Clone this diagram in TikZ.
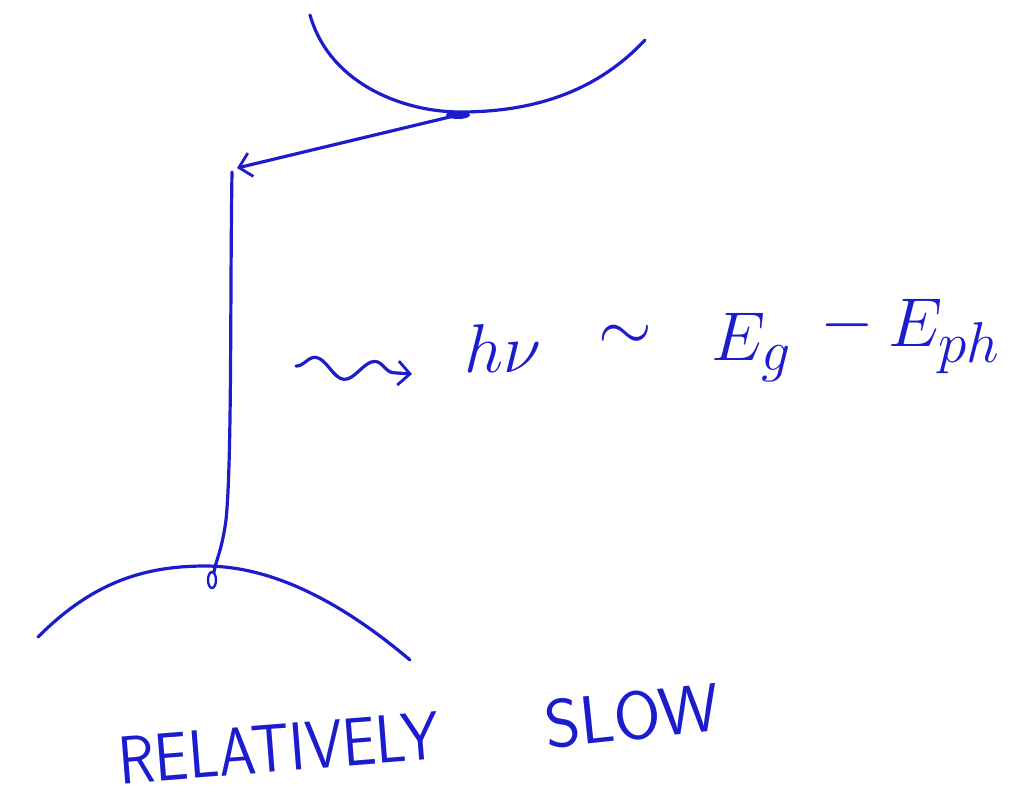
\documentclass[tikz,border=0pt]{standalone}
\usepackage{fontspec}
\usetikzlibrary{arrows.meta,decorations.pathmorphing}
\definecolor{ink}{RGB}{28,28,205}
\begin{document}
\begin{tikzpicture}[x=0.5pt,y=-0.5pt,
  pen/.style={draw=ink,line width=1.6pt,line cap=round,line join=round},
  tipstyle/.style={-{Straight Barb[length=6pt,width=12pt,line width=1.4pt]}},
  mathtext/.style={text=ink,inner sep=0pt,anchor=base,scale=2,font=\fontsize{19}{21}\selectfont},
  handtext/.style={text=ink,font=\fontsize{34}{34}\selectfont\sffamily,inner sep=0pt}]
\useasboundingbox (0,0) rectangle (1012,799);
% bands
\draw[pen] (310,15) .. controls (330,85) and (405,112) .. (460,112) .. controls (540,112) and (600,88) .. (645,40);
\draw[pen] (38,637) .. controls (90,585) and (140,566) .. (205,566) .. controls (275,566) and (345,605) .. (410,660);
% electron at CB minimum, hole at VB maximum
\coordinate (cbmin) at (458,115);
\coordinate (tip) at (237,168);
\coordinate (top) at (232,172);
\coordinate (vbmax) at (214,572);
\fill[ink] (cbmin) ellipse (12 and 4);
\draw[pen,line width=1.2pt] (212,580) ellipse (4 and 8);
% transitions
\draw[pen,tipstyle] (cbmin) -- (tip);
\draw[pen] (top) .. controls (230,300) and (232,460) .. (226,520) .. controls (222,550) and (216,560) .. (vbmax);
% photon
\coordinate (wstart) at (296,366);
\coordinate (wend) at (412,374);
\draw[pen,tipstyle,decorate,decoration={snake,amplitude=5pt,segment length=30pt,post length=8pt}] (wstart) -- (wend);
\node[mathtext] (hnu) at (503,372) {$h\nu$};
\node[mathtext] (sim) at (625,350) {$\sim$};
\node[mathtext] (eg) at (752,360) {$E_g$};
\node[mathtext] (minus) at (847,342) {$-$};
\node[mathtext] (eph) at (945,346) {$E_{ph}$};
% labels
\node[handtext,rotate=4.5,xscale=0.88] (rel) at (279,748) {RELATIVELY};
\node[handtext,rotate=6] (slow) at (632,716) {SLOW};
\end{tikzpicture}
\end{document}
